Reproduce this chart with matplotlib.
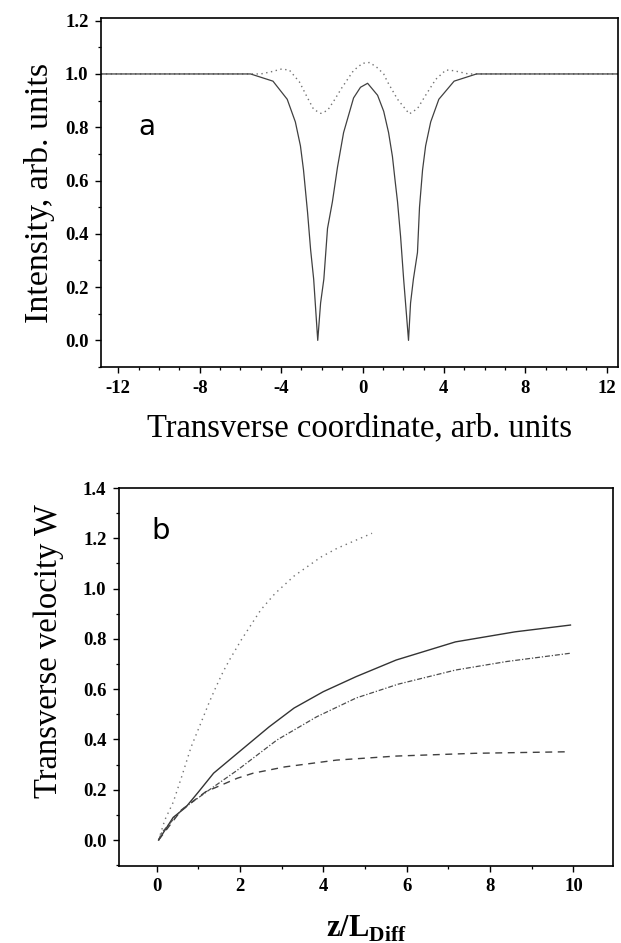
import numpy as np
import matplotlib as mpl
import matplotlib.pyplot as plt
from matplotlib.ticker import MultipleLocator, FormatStrFormatter

mpl.rcParams['axes.unicode_minus'] = False
mpl.rcParams['mathtext.fontset'] = 'custom'
mpl.rcParams['mathtext.rm'] = 'Liberation Serif'
mpl.rcParams['mathtext.bf'] = 'Liberation Serif:bold'

# panel a: intensity profiles
x_dark = [-12.85, -5.5, -4.4, -3.7, -3.3, -3.05, -2.9, -2.7, -2.55, -2.4, -2.2, -2.06, -1.9, -1.72,
          -1.48, -1.23, -0.93, -0.44, -0.1, 0.25, 0.74, 1.04, 1.28, 1.47, 1.6, 1.72, 1.87, 2.02, 2.26,
          2.36, 2.5, 2.7, 2.8, 2.95, 3.1, 3.35, 3.75, 4.5, 5.6, 12.55]
y_dark = [1.0, 1.0, 0.973, 0.905, 0.82, 0.73, 0.64, 0.48, 0.34, 0.23, 0.0, 0.14, 0.23, 0.42,
          0.52, 0.65, 0.78, 0.91, 0.95, 0.965, 0.92, 0.86, 0.78, 0.69, 0.6, 0.52, 0.39, 0.23, 0.0,
          0.14, 0.23, 0.33, 0.5, 0.64, 0.73, 0.82, 0.905, 0.973, 1.0, 1.0]
x_light = [-12.85, -5.0, -4.5, -4.0, -3.6, -3.1, -2.7, -2.4, -2.05, -1.72, -1.4, -1.0, -0.44, 0.0,
           0.35, 0.7, 1.04, 1.23, 1.72, 2.3, 2.7, 3.1, 3.6, 4.1, 4.5, 5.2, 12.55]
y_light = [1.0, 1.0, 1.008, 1.018, 1.015, 0.97, 0.91, 0.867, 0.852, 0.863, 0.9, 0.95, 1.013, 1.04,
           1.043, 1.025, 1.0, 0.97, 0.905, 0.85, 0.87, 0.92, 0.98, 1.015, 1.012, 1.0, 1.0]

# panel b: transverse velocity vs z/L_Diff
zA = [0.05, 0.2, 0.4, 0.6, 0.83, 1.1, 1.27, 1.43, 1.6, 1.75, 2.03, 2.5, 2.84, 3.3, 3.94, 4.33, 5.17]
wA = [0.0, 0.08, 0.15, 0.25, 0.37, 0.48, 0.55, 0.61, 0.67, 0.716, 0.795, 0.915, 0.98, 1.05, 1.125,
      1.16, 1.22]
zB = [0.05, 0.4, 0.7, 1.0, 1.37, 1.94, 2.7, 3.3, 4.0, 4.79, 5.75, 7.17, 8.6, 9.93]
wB = [0.0, 0.09, 0.13, 0.19, 0.266, 0.345, 0.45, 0.525, 0.59, 0.65, 0.716, 0.788, 0.828, 0.855]
zC = [0.05, 0.12, 0.6, 1.27, 1.94, 2.89, 3.84, 4.79, 5.8, 7.17, 8.4, 9.93]
wC = [0.0, 0.028, 0.12, 0.2, 0.278, 0.398, 0.49, 0.565, 0.62, 0.676, 0.71, 0.743]
zD = [0.05, 0.6, 1.18, 1.56, 1.94, 2.32, 3.08, 4.32, 5.75, 7.64, 9.83]
wD = [0.0, 0.12, 0.192, 0.219, 0.246, 0.266, 0.291, 0.318, 0.334, 0.345, 0.351]

serif = 'Liberation Serif'
tick_font = {'family': serif, 'weight': 'bold', 'size': 13.5}


def style_axes(ax, xmaj, xmin, yfmt):
    ax.xaxis.set_major_locator(MultipleLocator(xmaj))
    ax.xaxis.set_minor_locator(MultipleLocator(xmin))
    ax.yaxis.set_major_locator(MultipleLocator(0.2))
    ax.yaxis.set_minor_locator(MultipleLocator(0.1))
    ax.yaxis.set_major_formatter(FormatStrFormatter(yfmt))
    ax.tick_params(which='major', direction='out', length=4, width=1.0, pad=5)
    ax.tick_params(which='minor', direction='out', length=2.5, width=0.9)
    for lab in ax.get_xticklabels() + ax.get_yticklabels():
        lab.set_fontproperties(mpl.font_manager.FontProperties(**tick_font))
    for sp in ax.spines.values():
        sp.set_linewidth(1.2)


fig = plt.figure(figsize=(6.21, 9.43), dpi=100)

ax1 = fig.add_axes([0.1626, 0.6108, 0.8325, 0.3701])
ax1.plot(x_light, y_light, linestyle=(0, (1, 2.5)), color='0.45', lw=1.0)
ax1.plot(x_dark, y_dark, linestyle='-', color='0.25', lw=0.9)
ax1.set_xlim(-12.85, 12.55)
ax1.set_ylim(-0.1, 1.21)
style_axes(ax1, 4, 1, '%.1f')
ax1.set_xlabel('Transverse coordinate, arb. units', family=serif, fontsize=23.5, labelpad=12)
ax1.set_ylabel('Intensity, arb. units', family=serif, fontsize=24.5, labelpad=7)
ax1.text(-10.6, 0.80, 'a', family='DejaVu Sans', fontsize=20, ha='center', va='center')

ax2 = fig.add_axes([0.1916, 0.0817, 0.7955, 0.4008])
ax2.plot(zA, wA, linestyle=(0, (1, 3)), color='0.45', lw=1.0)
ax2.plot(zB, wB, linestyle='-', color='0.2', lw=1.0)
ax2.plot(zC, wC, linestyle=(0, (4, 1.5, 1, 1.5)), color='0.3', lw=0.9)
ax2.plot(zD, wD, linestyle=(0, (5, 4)), color='0.25', lw=1.0)
ax2.set_xlim(-0.9, 10.95)
ax2.set_ylim(-0.103, 1.4)
style_axes(ax2, 2, 1, '%.1f')
ax2.set_xlabel(r'$\mathbf{z/L}_{\mathbf{Diff}}$', fontsize=22, labelpad=13)
ax2.set_ylabel('Transverse velocity W', family=serif, fontsize=23.5)
ax2.yaxis.set_label_coords(-0.112, 0.569)
ax2.text(0.1, 1.23, 'b', family='DejaVu Sans', fontsize=21, ha='center', va='center')

fig.savefig('out.png', dpi=100)
